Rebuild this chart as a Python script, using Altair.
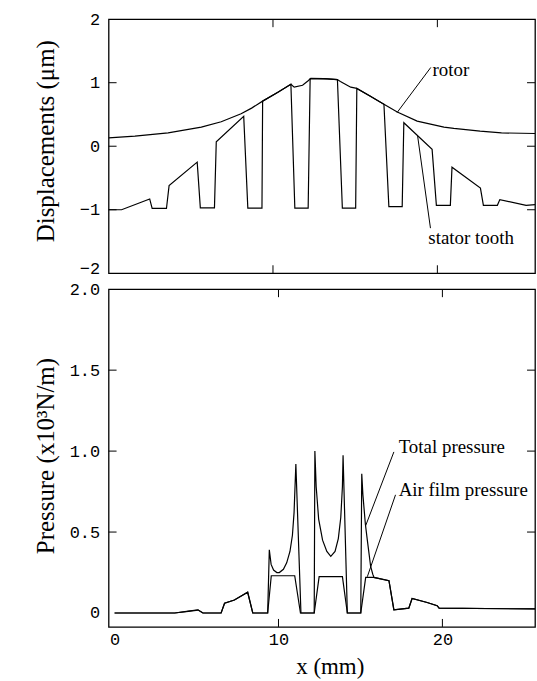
import altair as alt
import pandas as pd

# ---------------- data ----------------
rotor_x = [0.0, 1.6, 3.62, 5.64, 6.85, 8.06, 8.7, 9.37, 10.3, 11.09, 11.29, 11.8, 12.14, 12.3,
           13.1, 13.92, 14.1, 14.73, 15.1, 15.9, 16.75, 17.56, 18.77, 20.4, 21.0, 22.6, 23.9, 25.94]
rotor_y = [0.13, 0.158, 0.21, 0.30, 0.385, 0.51, 0.6, 0.71, 0.85, 0.975, 0.93, 0.96, 1.03, 1.07,
           1.065, 1.05, 1.02, 0.93, 0.91, 0.79, 0.66, 0.54, 0.395, 0.30, 0.28, 0.237, 0.21, 0.2]

stator_x = [0.0, 0.79, 2.5, 2.65, 3.52, 3.68, 5.39, 5.58, 6.44, 6.55, 8.22, 8.47, 9.33, 9.37,
            10.3, 11.09, 11.33, 12.14, 12.26, 13.1, 13.92, 14.22, 15.03, 15.1, 15.9, 16.75,
            17.05, 17.86, 17.96, 19.68, 19.94, 20.79, 20.89, 22.62, 22.8, 23.65, 23.8, 25.4, 25.94]
stator_y = [-1.0, -1.0, -0.83, -0.98, -0.98, -0.62, -0.25, -0.97, -0.97, 0.07, 0.47, -0.975, -0.975, 0.71,
            0.85, 0.975, -0.975, -0.975, 1.06, 1.065, 1.05, -0.975, -0.975, 0.91, 0.79, 0.66,
            -0.95, -0.95, 0.37, -0.05, -0.93, -0.93, -0.33, -0.66, -0.93, -0.93, -0.84, -0.93, -0.92]

total_x = [0.0, 3.67, 4.5, 5.09, 5.39, 6.5, 6.71, 7.31, 8.12, 8.43, 9.34, 9.44, 9.55, 9.7, 9.9,
           10.05, 10.3, 10.5, 10.7, 10.85, 10.95, 11.06, 11.37, 12.18, 12.22, 12.3, 12.45, 12.69,
           12.95, 13.19, 13.45, 13.65, 13.8, 13.9, 13.94, 14.2, 15.02, 15.08, 15.15, 15.3, 15.42,
           15.62, 15.75, 15.83, 16.74, 17.04, 17.95, 18.15, 19.07, 19.68, 19.8, 25.7]
total_y = [0.0, 0.0, 0.012, 0.02, 0.0, 0.0, 0.06, 0.08, 0.128, 0.0, 0.0, 0.39, 0.30, 0.265, 0.25,
           0.25, 0.27, 0.31, 0.38, 0.48, 0.62, 0.92, 0.0, 0.0, 1.0, 0.78, 0.58, 0.45,
           0.38, 0.35, 0.38, 0.46, 0.59, 0.78, 0.975, 0.0, 0.0, 0.86, 0.73, 0.55, 0.45,
           0.29, 0.24, 0.22, 0.20, 0.02, 0.03, 0.09, 0.065, 0.045, 0.03, 0.025]

air_x = [0.0, 3.67, 4.5, 5.09, 5.39, 6.5, 6.71, 7.31, 8.12, 8.43, 9.34, 9.56, 10.99, 11.34,
         12.18, 12.48, 13.9, 14.2, 15.02, 15.32, 15.8, 16.74, 17.04, 17.95, 18.15, 19.07,
         19.68, 19.8, 25.7]
air_y = [0.0, 0.0, 0.01, 0.018, 0.0, 0.0, 0.06, 0.08, 0.128, 0.0, 0.0, 0.23, 0.23, 0.0,
         0.0, 0.225, 0.225, 0.0, 0.0, 0.22, 0.22, 0.20, 0.02, 0.03, 0.09, 0.065,
         0.045, 0.03, 0.025]

disp_tick_vals = [-1, 0, 1]
disp_label_vals = [-2, -1, 0, 1, 2]
pres_tick_vals = [0.5, 1.0, 1.5]
pres_label_vals = [0, 0.5, 1.0, 1.5, 2.0]
x_tick_vals = [10, 20]
x_label_vals = [0, 10, 20]

top_labels = ["rotor", "stator tooth"]
top_label_x = [19.7, 19.45]
top_label_y = [1.1, -1.54]
top_lead_x = [19.6, 19.58]
top_lead_y = [1.24, -1.29]
top_lead_x2 = [17.55, 18.8]
top_lead_y2 = [0.53, 0.16]

bot_labels = ["Total pressure", "Air film pressure"]
bot_label_x = [17.33, 17.33]
bot_label_y = [0.99, 0.72]
bot_lead_x = [17.04, 17.14]
bot_lead_y = [0.995, 0.73]
bot_lead_x2 = [15.32, 15.42]
bot_lead_y2 = [0.54, 0.224]

# ---------------- styling ----------------
MONO = "Liberation Mono"
SERIF = "Liberation Serif"
W = 428
H_TOP = 255
H_BOT = 339
TICK = 8
LW = 1.2


def line_df(xs, ys):
    return pd.DataFrame({"x": xs, "y": ys, "i": list(range(len(xs)))})


def make_panel(series, xdom, ydom, yaxis, xaxis, xticks, yticks, labels, leads, height):
    xs = alt.Scale(domain=xdom, nice=False, zero=False)
    ys = alt.Scale(domain=ydom, nice=False, zero=False)

    def X(f):
        return alt.X(f, scale=xs, axis=xaxis)

    def Y(f):
        return alt.Y(f, scale=ys, axis=yaxis)

    layers = []
    for xv, yv in series:
        layers.append(
            alt.Chart(line_df(xv, yv)).mark_line(color="black", strokeWidth=LW, clip=True)
            .encode(x=X("x:Q"), y=Y("y:Q"), order="i:Q")
        )
    xt = pd.DataFrame({"x": xticks})
    layers.append(alt.Chart(xt).mark_rule(color="black", strokeWidth=1).encode(
        x=X("x:Q"), y=alt.value(0), y2=alt.value(TICK)))
    layers.append(alt.Chart(xt).mark_rule(color="black", strokeWidth=1).encode(
        x=X("x:Q"), y=alt.value(height - TICK), y2=alt.value(height)))
    yt = pd.DataFrame({"y": yticks})
    layers.append(alt.Chart(yt).mark_rule(color="black", strokeWidth=1).encode(
        y=Y("y:Q"), x=alt.value(0), x2=alt.value(TICK)))
    layers.append(alt.Chart(yt).mark_rule(color="black", strokeWidth=1).encode(
        y=Y("y:Q"), x=alt.value(W - TICK), x2=alt.value(W)))
    lab_t, lab_x, lab_y = labels
    ldf = pd.DataFrame({"t": lab_t, "x": lab_x, "y": lab_y})
    layers.append(alt.Chart(ldf).mark_text(
        font=SERIF, fontSize=19, align="left", baseline="alphabetic", color="black"
    ).encode(x=X("x:Q"), y=Y("y:Q"), text="t:N"))
    lx, ly, lx2, ly2 = leads
    rdf = pd.DataFrame({"x": lx, "y": ly, "x2": lx2, "y2": ly2})
    layers.append(alt.Chart(rdf).mark_rule(color="black", strokeWidth=1).encode(
        x=X("x:Q"), y=Y("y:Q"), x2="x2:Q", y2="y2:Q"))
    return alt.layer(*layers).properties(width=W, height=height)


top_yaxis = alt.Axis(
    values=disp_label_vals, format="d", ticks=False, domain=False, grid=False, tickSize=0,
    labelFont=MONO, labelFontSize=17, labelPadding=9, labelColor="black",
    labelBaseline={"condition": {"test": "datum.value == -2", "value": "alphabetic"}, "value": "middle"},
    title="Displacements (μm)", titleFont=SERIF, titleFontSize=25, titleFontWeight="normal",
    titleColor="black", titleX=-50, titleY=122,
)
bot_yaxis = alt.Axis(
    values=pres_label_vals, labelExpr="datum.value == 0 ? '0' : format(datum.value, '.1f')",
    ticks=False, domain=False, grid=False, tickSize=0,
    labelFont=MONO, labelFontSize=17, labelPadding=9, labelColor="black",
    title="Pressure (x10³N/m)", titleFont=SERIF, titleFontSize=25, titleFontWeight="normal",
    titleColor="black", titleX=-50, titleY=167,
)
bot_xaxis = alt.Axis(
    values=x_label_vals, format="d", ticks=False, domain=False, grid=False, tickSize=0,
    labelFont=MONO, labelFontSize=17, labelPadding=5, labelColor="black",
    title="x (mm)", titleFont=SERIF, titleFontSize=23, titleFontWeight="normal",
    titleColor="black", titlePadding=8, titleX=222,
)

top = make_panel(
    [(rotor_x, rotor_y), (stator_x, stator_y)],
    [0, 25.94], [-2, 2], top_yaxis, None, x_tick_vals, disp_tick_vals,
    (top_labels, top_label_x, top_label_y),
    (top_lead_x, top_lead_y, top_lead_x2, top_lead_y2), H_TOP,
)
bottom = make_panel(
    [(total_x, total_y), (air_x, air_y)],
    [-0.365, 25.65], [-0.086, 2.0], bot_yaxis, bot_xaxis, x_tick_vals, pres_tick_vals,
    (bot_labels, bot_label_x, bot_label_y),
    (bot_lead_x, bot_lead_y, bot_lead_x2, bot_lead_y2), H_BOT,
)

chart = (
    alt.vconcat(top, bottom, spacing=16, bounds="flush")
    .properties(padding={"left": 33, "top": 8, "right": 0, "bottom": 0}, background="white")
    .configure_view(stroke="black", strokeWidth=1.3)
)

chart.save("out.html", embed_options={"renderer": "svg", "actions": False})
